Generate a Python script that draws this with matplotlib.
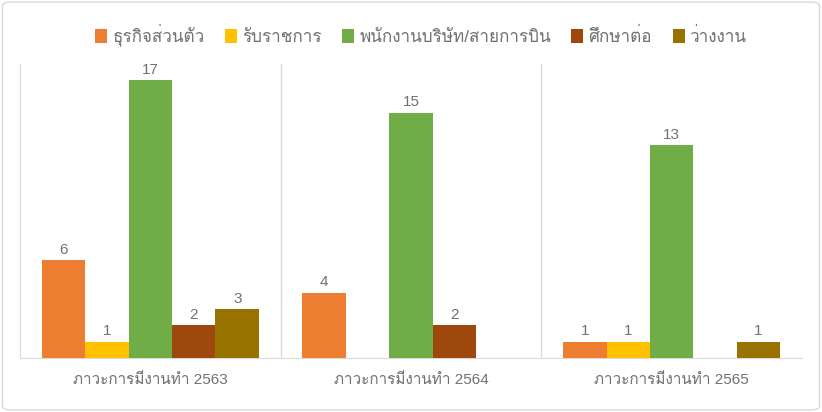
import numpy as np
import matplotlib
matplotlib.use('Agg')
import matplotlib.pyplot as plt
from matplotlib import font_manager
from matplotlib.ft2font import FT2Font
from matplotlib.patches import FancyBboxPatch

categories = ['ภาวะการมีงานทำ 2563', 'ภาวะการมีงานทำ 2564', 'ภาวะการมีงานทำ 2565']
series_names = ['ธุรกิจส่วนตัว', 'รับราชการ', 'พนักงานบริษัท/สายการบิน', 'ศึกษาต่อ', 'ว่างงาน']
business = [6, 4, 1]
government = [1, 0, 1]
company = [17, 15, 13]
study = [2, 2, 0]
unemployed = [3, 0, 1]
colors = ['#ED7D31', '#FFC000', '#70AD47', '#9E480E', '#997300']


# find an installed font that has Thai glyphs
def thai_font():
    for f in font_manager.fontManager.ttflist:
        try:
            if 0x0E01 in FT2Font(f.fname).get_charmap():
                return f.name
        except Exception:
            pass
    return None


tf = thai_font()
fams = ['Liberation Sans', tf, 'DejaVu Sans'] if tf else ['Liberation Sans', 'DejaVu Sans']
plt.rcParams['font.family'] = fams
txt = '#707070'

fig = plt.figure(figsize=(8.22, 4.12), dpi=100)
ax = fig.add_axes([20 / 822, 1 - 358 / 412, 782 / 822, (358 - 63.7) / 412])

values = [business, government, company, study, unemployed]
x = np.arange(len(categories))
w = 1 / 6
for i, (name, vals) in enumerate(zip(series_names, values)):
    pos = x + (i - 2) * w
    bars = ax.bar(pos, vals, w, color=colors[i], label=name, zorder=3)
    for b, v in zip(bars, vals):
        if v:
            ax.text(b.get_x() + b.get_width() / 2, v + 0.2, str(v),
                    ha='center', va='bottom', fontsize=11, color=txt)

ax.set_xlim(-0.5, 2.5)
ax.set_ylim(0, 18)
ax.set_yticks([])
ax.set_xticks(x)
ax.set_xticklabels(categories, fontsize=11, color=txt)
ax.tick_params(axis='x', length=0, pad=11)
for bx in [0.5, 1.5]:
    ax.axvline(bx, color='#D9D9D9', lw=1, zorder=1)
for s in ['top', 'right']:
    ax.spines[s].set_visible(False)
ax.spines['left'].set_color('#D9D9D9')
ax.spines['bottom'].set_color('#D9D9D9')

fig.legend(loc='center', bbox_to_anchor=(421 / 822, 1 - 35 / 412), ncol=5,
           frameon=False, fontsize=12.3, labelcolor=txt,
           handlelength=0.7, handleheight=0.9, handletextpad=0.3,
           columnspacing=1.2)

border = FancyBboxPatch((0.003, 0.005), 0.994, 0.99, boxstyle='round,pad=0,rounding_size=0.01',
                        transform=fig.transFigure, fill=False, edgecolor='#D9D9D9', lw=1)
fig.patches.append(border)

fig.savefig('out.png', dpi=100, facecolor='white')
